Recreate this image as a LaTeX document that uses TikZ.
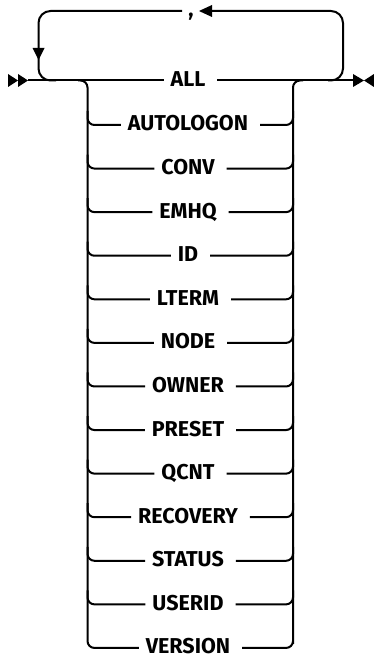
\documentclass[tikz,border=0pt]{standalone}
\usepackage{fontspec}
\setmainfont{Fira Sans}
\begin{document}
\begin{tikzpicture}[x=1pt,y=-1pt,line width=2pt,
  rc/.style={rounded corners=7pt},
  lc/.style={rounded corners=12pt},
  lbl/.style={font=\fontsize{21.5}{25}\selectfont\bfseries,inner xsep=6pt,inner ysep=0pt,text height=12pt,text depth=0pt},
  tipfill/.style={fill=black,draw=none}]
\useasboundingbox (0,0) rectangle (373,658);
% start / end markers
\fill[tipfill] (8,74) -- (8,87) -- (18,80.5) -- cycle;
\fill[tipfill] (18,74) -- (18,87) -- (28,80.5) -- cycle;
\fill[tipfill] (353,74) -- (353,87) -- (364,80.5) -- cycle;
\fill[tipfill] (374,74) -- (374,87) -- (364,80.5) -- cycle;
\coordinate (s) at (28,80.5);
\coordinate (e) at (353,80.5);
% labels
\node[lbl] (all) at (190.5,80.5) {ALL\hspace*{5pt}};
\foreach \t [count=\i from 0] in {AUTOLOGON,CONV,EMHQ,ID,LTERM,NODE,OWNER,PRESET,QCNT,RECOVERY,STATUS,USERID,VERSION}
  \node[lbl] (r\i) at (190.5,{125+43.58*\i}) {\t\hspace*{5pt}};
% main line
\draw (s) -- (all.west);
\draw (all.east) -- (e);
% branch verticals
\coordinate (bl) at (87.5,{125+43.58*12});
\coordinate (br) at (293,{125+43.58*12});
\draw[rc] (78,80.5) -| (bl) -- (r12.west);
\draw[rc] (r12.east) -| (br) |- (303,80.5);
\foreach \i in {0,...,11}{
  \draw[rc] (r\i.west) -| (87.5,{125+43.58*\i-14});
  \draw[rc] (r\i.east) -| (293,{125+43.58*\i-14});
}
% repeat loop
\node[font=\fontsize{21.5}{25}\selectfont\bfseries,inner sep=0pt,anchor=base] (comma) at (191,17) {,};
\draw[lc] (328,80.5) -| (343,11) -- (205,11);
\fill[tipfill] (199,11) -- (212,5) -- (212,17) -- cycle;
\draw[lc] (182,11) -| (38.5,80.5) -- (56,80.5);
\fill[tipfill] (32.5,48) -- (44.5,48) -- (38.5,60) -- cycle;
\end{tikzpicture}
\end{document}
